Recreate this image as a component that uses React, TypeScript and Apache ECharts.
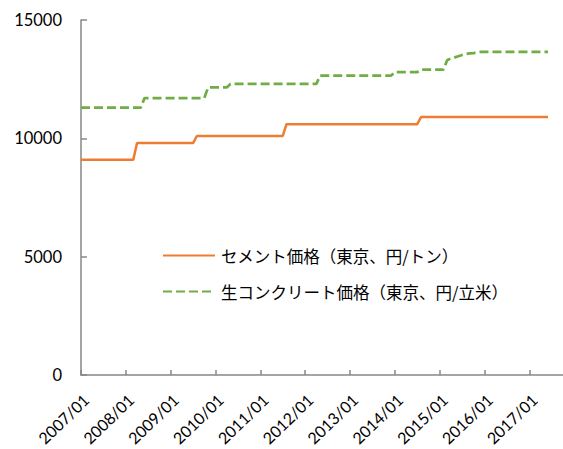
import React, { useEffect, useRef } from "react";
import * as echarts from "echarts";

// Month categories 2007/01 .. 2017/10 (axis extends a little past the data)
const startYear = 2007;
const monthCount = 130;
const categories: string[] = [];
for (let i = 0; i < monthCount; i++) {
  const y = startYear + Math.floor(i / 12);
  const m = (i % 12) + 1;
  categories.push(`${y}/${m < 10 ? "0" + m : m}`);
}

const seriesNames = ["セメント価格（東京、円/トン）", "生コンクリート価格（東京、円/立米）"];

// セメント価格 (monthly, 2007/01 .. 2017/06), one row per year
const cement: number[] = [
  9100, 9100, 9100, 9100, 9100, 9100, 9100, 9100, 9100, 9100, 9100, 9100,
  9100, 9100, 9100, 9800, 9800, 9800, 9800, 9800, 9800, 9800, 9800, 9800,
  9800, 9800, 9800, 9800, 9800, 9800, 9800, 10100, 10100, 10100, 10100, 10100,
  10100, 10100, 10100, 10100, 10100, 10100, 10100, 10100, 10100, 10100, 10100, 10100,
  10100, 10100, 10100, 10100, 10100, 10100, 10100, 10600, 10600, 10600, 10600, 10600,
  10600, 10600, 10600, 10600, 10600, 10600, 10600, 10600, 10600, 10600, 10600, 10600,
  10600, 10600, 10600, 10600, 10600, 10600, 10600, 10600, 10600, 10600, 10600, 10600,
  10600, 10600, 10600, 10600, 10600, 10600, 10600, 10900, 10900, 10900, 10900, 10900,
  10900, 10900, 10900, 10900, 10900, 10900, 10900, 10900, 10900, 10900, 10900, 10900,
  10900, 10900, 10900, 10900, 10900, 10900, 10900, 10900, 10900, 10900, 10900, 10900,
  10900, 10900, 10900, 10900, 10900, 10900,
];

// 生コンクリート価格 (monthly, 2007/01 .. 2017/06), one row per year
const concrete: number[] = [
  11300, 11300, 11300, 11300, 11300, 11300, 11300, 11300, 11300, 11300, 11300, 11300,
  11300, 11300, 11300, 11300, 11300, 11700, 11700, 11700, 11700, 11700, 11700, 11700,
  11700, 11700, 11700, 11700, 11700, 11700, 11700, 11700, 11700, 11700, 12150, 12150,
  12150, 12150, 12150, 12150, 12300, 12300, 12300, 12300, 12300, 12300, 12300, 12300,
  12300, 12300, 12300, 12300, 12300, 12300, 12300, 12300, 12300, 12300, 12300, 12300,
  12300, 12300, 12300, 12300, 12650, 12650, 12650, 12650, 12650, 12650, 12650, 12650,
  12650, 12650, 12650, 12650, 12650, 12650, 12650, 12650, 12650, 12650, 12650, 12650,
  12800, 12800, 12800, 12800, 12800, 12800, 12800, 12900, 12900, 12900, 12900, 12900,
  12900, 12900, 13300, 13380, 13420, 13470, 13520, 13560, 13590, 13600, 13620, 13650,
  13650, 13650, 13650, 13650, 13650, 13650, 13650, 13650, 13650, 13650, 13650, 13650,
  13650, 13650, 13650, 13650, 13650, 13650,
];

const yTicks = { min: 0, max: 15000, interval: 5000 };

export default function App() {
  const ref = useRef<HTMLDivElement>(null);
  useEffect(() => {
    if (!ref.current) return;
    const chart = echarts.init(ref.current, null, { renderer: "svg" });
    const axisColor = "#878787";
    const numFont = "Lato, 'Liberation Sans', sans-serif";
    const yearTick = (idx: number) => idx % 12 === 0;
    const labelShift = 5;
    chart.setOption({
      animation: false,
      backgroundColor: "#ffffff",
      grid: [
        { left: 81, right: 0, top: 20, bottom: 74, containLabel: false, outerBoundsMode: "none" },
        // label-only grid, shifted right so rotated labels sit like the reference
        {
          left: 81 + labelShift,
          right: -labelShift,
          top: 20,
          bottom: 74,
          containLabel: false,
          outerBoundsMode: "none",
        },
      ],
      legend: {
        orient: "vertical",
        left: 162,
        top: 245,
        padding: 0,
        itemWidth: 52,
        itemHeight: 14,
        itemGap: 15,
        data: seriesNames,
        itemStyle: { opacity: 0 },
        textStyle: {
          fontFamily: "'Noto Sans CJK JP', sans-serif",
          fontSize: 16.5,
          color: "#000",
          lineHeight: 21,
          padding: [0, 0, 0, 1],
        },
      },
      xAxis: [
        {
          type: "category",
          gridIndex: 0,
          data: categories,
          boundaryGap: false,
          axisLine: { lineStyle: { color: axisColor, width: 1.5 } },
          axisTick: {
            inside: true,
            length: 5,
            lineStyle: { color: axisColor, width: 1.5 },
            interval: yearTick,
          },
          axisLabel: { show: false },
          splitLine: { show: false },
        },
        {
          type: "category",
          gridIndex: 1,
          data: categories,
          boundaryGap: false,
          axisLine: { show: false },
          axisTick: { show: false },
          axisLabel: {
            interval: yearTick,
            rotate: 44,
            margin: 22,
            fontFamily: numFont,
            fontSize: 16,
            color: "#000",
            hideOverlap: false,
          },
          splitLine: { show: false },
        },
      ],
      yAxis: [
        {
          type: "value",
          gridIndex: 0,
          min: yTicks.min,
          max: yTicks.max,
          interval: yTicks.interval,
          axisLine: { show: true, lineStyle: { color: axisColor, width: 1.5 } },
          axisTick: { show: true, inside: true, length: 6, lineStyle: { color: axisColor, width: 1.5 } },
          axisLabel: {
            margin: 19,
            fontFamily: numFont,
            fontSize: 16.5,
            color: "#000",
            formatter: (v: number) => String(v),
          },
          splitLine: { show: false },
        },
        {
          type: "value",
          gridIndex: 1,
          min: yTicks.min,
          max: yTicks.max,
          interval: yTicks.interval,
          show: false,
        },
      ],
      series: [
        {
          name: seriesNames[0],
          type: "line",
          xAxisIndex: 0,
          yAxisIndex: 0,
          data: cement,
          symbol: "none",
          lineStyle: { color: "#ED7D31", width: 2.5 },
          itemStyle: { color: "#ED7D31" },
        },
        {
          name: seriesNames[1],
          type: "line",
          xAxisIndex: 0,
          yAxisIndex: 0,
          data: concrete,
          symbol: "none",
          lineStyle: { color: "#70AD47", width: 2.75, type: [9, 4] },
          itemStyle: { color: "#70AD47" },
        },
      ],
    });
    return () => chart.dispose();
  }, []);
  return (
    <div
      ref={ref}
      style={{ position: "absolute", left: 0, top: 0, width: 563, height: 449 }}
    />
  );
}
